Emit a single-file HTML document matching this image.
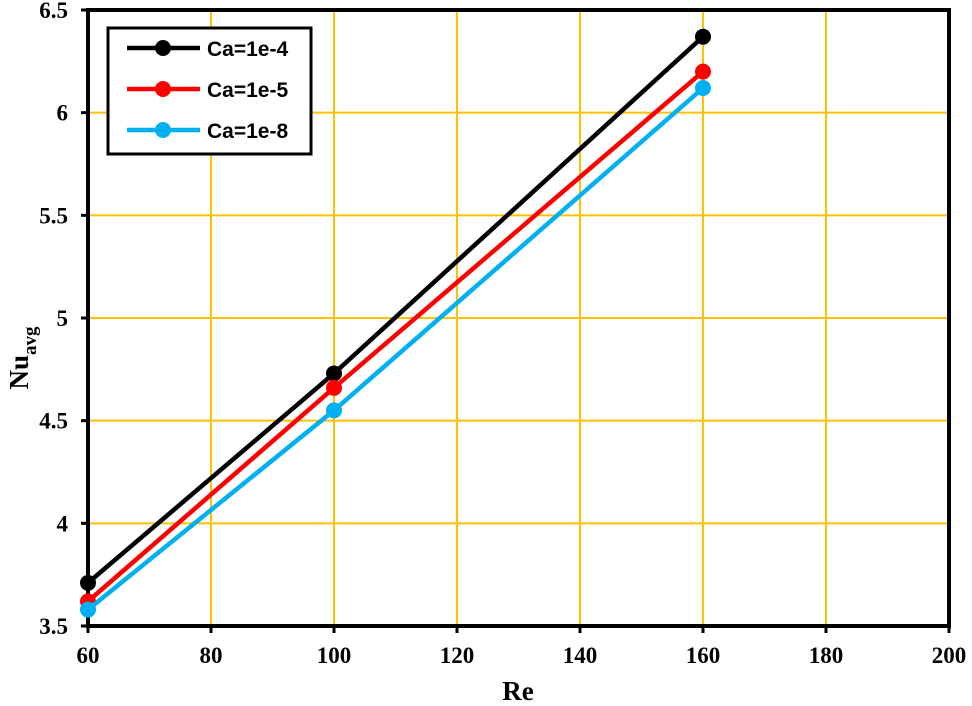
<!DOCTYPE html>
<html><head><meta charset="utf-8"><style>
body{margin:0;background:#fff}
svg{display:block}
</style></head><body>
<svg id="c" width="972" height="706" xmlns="http://www.w3.org/2000/svg"></svg>
<script>
const reValues=[60,100,160];
const seriesNames=["Ca=1e-4","Ca=1e-5","Ca=1e-8"];
const seriesColors=["#000000","#ff0000","#00b0f0"];
const nu1=[3.71,4.73,6.37];
const nu2=[3.62,4.66,6.20];
const nu3=[3.58,4.55,6.12];
const xTicks=[60,80,100,120,140,160,180,200];
const yTicks=[3.5,4,4.5,5,5.5,6,6.5];
const X0=88,X1=949,Y0=626,Y1=10;
const x=v=>X0+(v-60)/140*(X1-X0);
const y=v=>Y0-(v-3.5)/3*(Y0-Y1);
const S="http://www.w3.org/2000/svg",svg=document.getElementById('c');
const TK='font-family:"Liberation Serif",serif;font-weight:bold;font-size:23px;fill:#000';
function mk(t,a,p){const e=document.createElementNS(S,t);for(const k in a)e.setAttribute(k,a[k]);(p||svg).appendChild(e);return e;}
const grid=mk('g',{});


xTicks.slice(1).forEach(t=>mk('line',{x1:x(t),x2:x(t),y1:Y1,y2:Y0,stroke:'#ffc000','stroke-width':2},grid));
yTicks.slice(1).forEach(t=>mk('line',{x1:X0,x2:X1,y1:y(t),y2:y(t),stroke:'#ffc000','stroke-width':2},grid));
const ax=mk('g',{});


mk('rect',{x:X0,y:Y1,width:X1-X0,height:Y0-Y1,fill:'none',stroke:'#000','stroke-width':4},ax);
xTicks.forEach(t=>{mk('line',{x1:x(t),x2:x(t),y1:Y0,y2:Y0+7,stroke:'#000','stroke-width':3},ax);
const e=mk('text',{x:x(t),y:Y0+37,'text-anchor':'middle',style:TK},ax);e.textContent=t;

});
yTicks.forEach(t=>{mk('line',{x1:X0-7,x2:X0,y1:y(t),y2:y(t),stroke:'#000','stroke-width':3},ax);
const e=mk('text',{x:X0-20,y:y(t)+8,'text-anchor':'end',style:TK},ax);e.textContent=t;

});
const xt=mk('text',{x:518,y:700,'text-anchor':'middle',style:TK.replace('23px','27px')});xt.textContent='Re';


const yt=mk('text',{x:0,y:0,style:TK.replace('23px','27px'),transform:'translate(28,358) rotate(-90)','text-anchor':'middle'});
yt.innerHTML='Nu<tspan style="font-size:19px" dy="8">avg</tspan>';


[nu1,nu2,nu3].forEach((d,i)=>{const g=mk('g',{});


mk('polyline',{points:d.map((v,j)=>x(reValues[j])+','+y(v)).join(' '),fill:'none',stroke:seriesColors[i],'stroke-width':4.5},g);
d.forEach((v,j)=>{const c=mk('circle',{cx:x(reValues[j]),cy:y(v),r:8,fill:seriesColors[i]},g);

});});
const lg=mk('g',{});


mk('rect',{x:108,y:28,width:203,height:126,fill:'#fff',stroke:'#000','stroke-width':3},lg);
seriesNames.forEach((n,i)=>{const yy=48+i*41;
const e=mk('g',{},lg);


mk('line',{x1:127,x2:200,y1:yy,y2:yy,stroke:seriesColors[i],'stroke-width':4.5},e);
mk('circle',{cx:163,cy:yy,r:8,fill:seriesColors[i]},e);
const t=mk('text',{x:207,y:yy+8,style:'font-family:"Liberation Sans",sans-serif;font-weight:bold;font-size:21px;fill:#000'},e);t.textContent=n;});
</script>
</body></html>
